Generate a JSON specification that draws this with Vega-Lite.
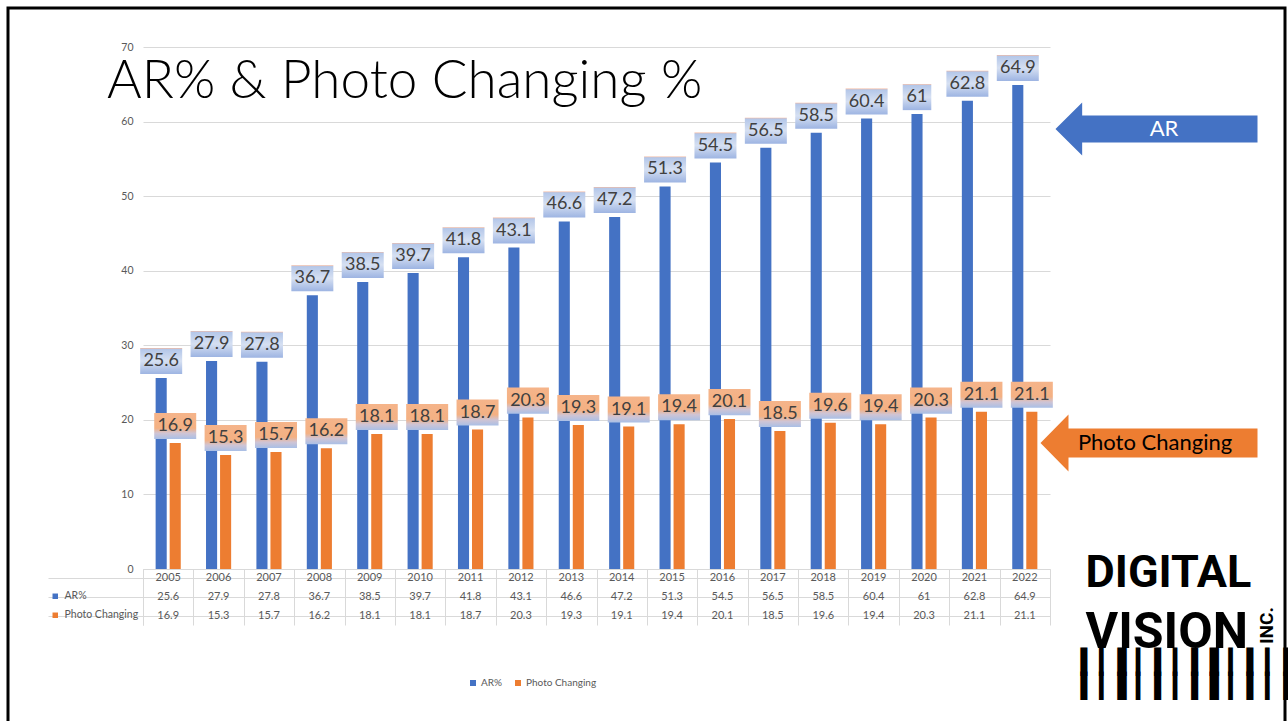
{
  "$schema": "https://vega.github.io/schema/vega-lite/v6.json",
  "width": 1277,
  "height": 715,
  "autosize": {"type": "none"},
  "padding": {"left": 8, "top": 8, "right": 3, "bottom": -2},
  "background": "white",
  "config": {"view": {"stroke": "black", "strokeWidth": 3}, "font": "Lato"},
  "title": {
    "text": "AR% & Photo Changing %",
    "anchor": "start",
    "frame": "group",
    "dx": 99,
    "offset": -143,
    "font": "Lato",
    "fontWeight": 300,
    "fontSize": 53,
    "color": "#000000",
    "baseline": "alphabetic"
  },
  "data": {
    "values": [
      {"year": "2005", "series": "AR%", "value": 25.6}, {"year": "2005", "series": "Photo Changing", "value": 16.9},
      {"year": "2006", "series": "AR%", "value": 27.9}, {"year": "2006", "series": "Photo Changing", "value": 15.3},
      {"year": "2007", "series": "AR%", "value": 27.8}, {"year": "2007", "series": "Photo Changing", "value": 15.7},
      {"year": "2008", "series": "AR%", "value": 36.7}, {"year": "2008", "series": "Photo Changing", "value": 16.2},
      {"year": "2009", "series": "AR%", "value": 38.5}, {"year": "2009", "series": "Photo Changing", "value": 18.1},
      {"year": "2010", "series": "AR%", "value": 39.7}, {"year": "2010", "series": "Photo Changing", "value": 18.1},
      {"year": "2011", "series": "AR%", "value": 41.8}, {"year": "2011", "series": "Photo Changing", "value": 18.7},
      {"year": "2012", "series": "AR%", "value": 43.1}, {"year": "2012", "series": "Photo Changing", "value": 20.3},
      {"year": "2013", "series": "AR%", "value": 46.6}, {"year": "2013", "series": "Photo Changing", "value": 19.3},
      {"year": "2014", "series": "AR%", "value": 47.2}, {"year": "2014", "series": "Photo Changing", "value": 19.1},
      {"year": "2015", "series": "AR%", "value": 51.3}, {"year": "2015", "series": "Photo Changing", "value": 19.4},
      {"year": "2016", "series": "AR%", "value": 54.5}, {"year": "2016", "series": "Photo Changing", "value": 20.1},
      {"year": "2017", "series": "AR%", "value": 56.5}, {"year": "2017", "series": "Photo Changing", "value": 18.5},
      {"year": "2018", "series": "AR%", "value": 58.5}, {"year": "2018", "series": "Photo Changing", "value": 19.6},
      {"year": "2019", "series": "AR%", "value": 60.4}, {"year": "2019", "series": "Photo Changing", "value": 19.4},
      {"year": "2020", "series": "AR%", "value": 61}, {"year": "2020", "series": "Photo Changing", "value": 20.3},
      {"year": "2021", "series": "AR%", "value": 62.8}, {"year": "2021", "series": "Photo Changing", "value": 21.1},
      {"year": "2022", "series": "AR%", "value": 64.9}, {"year": "2022", "series": "Photo Changing", "value": 21.1}
    ]
  },
  "layer": [
    {
      "encoding": {
        "x": {
          "field": "year", "type": "nominal",
          "scale": {"range": [135, 1042], "paddingInner": 0, "paddingOuter": 0},
          "axis": {
            "orient": "bottom", "labels": false, "ticks": false, "domain": false, "grid": false,
            "title": "DIGITAL", "titleX": 1077, "titleY": -137, "titleAlign": "left", "titleBaseline": "alphabetic",
            "titleFont": "Roboto", "titleFontSize": 45, "titleFontWeight": "bold", "titleColor": "#000000"
          }
        },
        "xOffset": {"field": "series", "type": "nominal", "scale": {"domain": ["AR%", "Photo Changing"], "paddingInner": 0.21, "paddingOuter": 0.9}},
        "y": {
          "field": "value", "type": "quantitative",
          "scale": {"domain": [0, 70], "range": [561, 39], "nice": false},
          "axis": {
            "orient": "left", "offset": -135, "values": [0, 10, 20, 30, 40, 50, 60, 70],
            "grid": true, "gridColor": "#d9d9d9", "domain": false, "ticks": false,
            "labelColor": "#595959", "labelFontSize": 10.5, "labelPadding": 10,
            "title": "INC.", "titleX": 1123, "titleY": 617, "titleAngle": 270, "titleAlign": "center", "titleBaseline": "middle",
            "titleFont": "Roboto", "titleFontSize": 19, "titleFontWeight": "bold", "titleColor": "#000000"
          }
        }
      },
      "layer": [
        {
          "mark": {"type": "bar"},
          "encoding": {
            "color": {
              "field": "series", "type": "nominal",
              "scale": {"domain": ["AR%", "Photo Changing"], "range": ["#4472c4", "#ed7d31"]},
              "legend": {
                "orient": "none", "legendX": 460, "legendY": 670, "direction": "horizontal", "title": null,
                "symbolType": "square", "symbolSize": 36, "symbolStrokeWidth": 0,
                "labelFontSize": 10, "labelColor": "#595959", "columnPadding": 10, "labelOffset": 3, "padding": 0
              }
            }
          }
        },
        {
          "transform": [{"filter": "datum.series === 'AR%'"}],
          "mark": {
            "type": "point", "filled": true, "opacity": 1, "size": 1764, "yOffset": -17, "strokeWidth": 0,
            "fill": {"gradient": "linear", "x1": 0, "y1": 0, "x2": 0, "y2": 1,
              "stops": [{"offset": 0, "color": "#f2b8a0"}, {"offset": 0.05, "color": "#b4c7e9"}, {"offset": 0.5, "color": "#d6e0f2"}, {"offset": 1, "color": "#9db4e2"}]}
          },
          "encoding": {
            "shape": {"condition": {"test": "datum.value % 1 === 0", "value": "M-0.68,-0.62L0.68,-0.62L0.68,0.62L-0.68,0.62Z"}, "value": "M-1,-0.62L1,-0.62L1,0.62L-1,0.62Z"}
          }
        },
        {
          "transform": [{"filter": "datum.series === 'Photo Changing'"}],
          "mark": {
            "type": "point", "filled": true, "opacity": 1, "size": 1764, "yOffset": -17, "strokeWidth": 0,
            "fill": {"gradient": "linear", "x1": 0, "y1": 0, "x2": 0, "y2": 1,
              "stops": [{"offset": 0, "color": "#f5b48a"}, {"offset": 0.58, "color": "#f4b183"}, {"offset": 0.78, "color": "#cfc4d4"}, {"offset": 1, "color": "#a9bfe6"}]}
          },
          "encoding": {
            "shape": {"value": "M-1,-0.62L1,-0.62L1,0.62L-1,0.62Z"}
          }
        },
        {
          "mark": {"type": "text", "dy": -17, "fontSize": 18, "color": "#404040", "font": "Lato"},
          "encoding": {"text": {"field": "value", "type": "quantitative"}}
        }
      ]
    },
    {
      "encoding": {
        "x": {
          "field": "year", "type": "nominal",
          "scale": {"range": [135, 1042], "paddingInner": 0, "paddingOuter": 0},
          "axis": {
            "orient": "top", "offset": -561, "labels": false, "ticks": false,
            "domain": true, "domainColor": "#d9d9d9", "grid": true, "gridColor": "#d9d9d9", "tickBand": "extent",
            "title": ["▍▎▌▎▍▎▍▌▎▍▎▌▍", "▍▎▌▎▍▎▍▌▎▍▎▌▍"], "titleX": 1072, "titleY": 81, "titleAngle": 0, "titleAlign": "left", "titleBaseline": "top",
            "titleFont": "DejaVu Sans", "titleFontSize": 24, "titleLineHeight": 24, "titleFontWeight": "normal", "titleColor": "#000000", "titleLimit": 0
          }
        }
      },
      "layer": [
        {
          "transform": [{"filter": "datum.series === 'AR%'"}],
          "mark": {"type": "text", "fontSize": 11, "color": "#595959", "font": "Lato"},
          "encoding": {
            "y": {
              "datum": "header", "type": "nominal",
              "scale": {"domain": ["header", "AR%", "Photo Changing"], "range": [561, 617], "paddingInner": 0, "paddingOuter": 0},
              "axis": {
                "orient": "left", "offset": -135, "labels": false, "ticks": true, "tickSize": 95, "tickColor": "#d9d9d9",
                "bandPosition": 1, "tickExtra": false, "grid": true, "gridColor": "#d9d9d9", "domain": true, "domainColor": "#d9d9d9",
                "title": "VISION", "titleX": 942, "titleY": 639, "titleAngle": 0, "titleAlign": "left", "titleBaseline": "alphabetic",
                "titleFont": "Roboto", "titleFontSize": 50, "titleFontWeight": "bold", "titleColor": "#000000"
              }
            },
            "text": {"field": "year", "type": "nominal"}
          }
        },
        {
          "mark": {"type": "text", "fontSize": 11, "color": "#595959", "font": "Lato"},
          "encoding": {
            "y": {
              "field": "series", "type": "nominal",
              "scale": {"domain": ["header", "AR%", "Photo Changing"], "range": [561, 617], "paddingInner": 0, "paddingOuter": 0},
              "axis": {
                "orient": "left", "offset": -135, "labels": false, "ticks": true, "tickSize": 95, "tickColor": "#d9d9d9",
                "bandPosition": 1, "tickExtra": false, "grid": true, "gridColor": "#d9d9d9", "domain": true, "domainColor": "#d9d9d9",
                "title": "VISION", "titleX": 942, "titleY": 639, "titleAngle": 0, "titleAlign": "left", "titleBaseline": "alphabetic",
                "titleFont": "Roboto", "titleFontSize": 50, "titleFontWeight": "bold", "titleColor": "#000000"
              }
            },
            "text": {"field": "value", "type": "quantitative"}
          }
        },
        {
          "transform": [{"filter": "false"}],
          "mark": {"type": "square"},
          "encoding": {
            "fill": {
              "field": "series", "type": "nominal",
              "scale": {"domain": ["AR%", "Photo Changing", " "], "range": ["#4472c4", "#ed7d31", "#ffffff"]},
              "legend": {
                "orient": "none", "legendX": 42, "legendY": 583, "direction": "vertical", "title": null,
                "values": ["AR%", "Photo Changing"], "symbolType": "square", "symbolSize": 30, "symbolStrokeWidth": 0, "symbolOpacity": 1,
                "labelFontSize": 10.5, "labelColor": "#595959", "rowPadding": 8, "labelOffset": 4, "padding": 0
              }
            }
          }
        }
      ]
    },
    {
      "transform": [{"filter": "false"}],
      "mark": {"type": "point", "filled": true, "color": "#4472c4", "stroke": "#2f528f", "strokeWidth": 1, "opacity": 1},
      "encoding": {
        "shape": {
          "field": "series", "type": "nominal",
          "scale": {
            "domain": ["AR%", "·"],
            "range": ["M-0.862,0L-0.616,-0.244L-0.616,-0.124L1,-0.124L1,0.124L-0.616,0.124L-0.616,0.244Z", "circle"]
          },
          "legend": {
            "orient": "none", "legendX": 1032, "legendY": 12, "title": null, "values": ["AR%"], "padding": 0,
            "symbolSize": 47089, "symbolStrokeColor": "#2f528f", "symbolStrokeWidth": 1, "symbolFillColor": "#4472c4", "symbolOpacity": 1,
            "labelExpr": "'AR'", "labelAlign": "center", "labelOffset": -94, "labelFontSize": 22, "labelFont": "Lato",
            "labelColor": "#ffffff", "labelLimit": 0
          }
        }
      }
    },
    {
      "transform": [{"filter": "false"}],
      "mark": {"type": "point", "filled": true, "color": "#ed7d31", "stroke": "#2f528f", "strokeWidth": 1,
        "shape": "M-1,0L-0.742,-0.263L-0.742,-0.134L1,-0.134L1,0.134L-0.742,0.134L-0.742,0.263Z"},
      "encoding": {
        "opacity": {
          "field": "series", "type": "ordinal",
          "scale": {"domain": ["Photo Changing", "·"], "range": [1, 1]},
          "legend": {
            "orient": "none", "legendX": 1032, "legendY": 326, "title": null, "values": ["Photo Changing"], "padding": 0,
            "symbolType": "M-1,0L-0.742,-0.263L-0.742,-0.134L1,-0.134L1,0.134L-0.742,0.134L-0.742,0.263Z",
            "symbolSize": 47089, "symbolStrokeColor": "#2f528f", "symbolStrokeWidth": 1, "symbolFillColor": "#ed7d31",
            "labelExpr": "'Photo Changing'", "labelAlign": "center", "labelOffset": -103, "labelFontSize": 22, "labelFont": "Lato",
            "labelColor": "#000000", "labelLimit": 0
          }
        }
      }
    }
  ],
  "resolve": {"scale": {"y": "independent"}, "axis": {"x": "independent", "y": "independent"}}
}
